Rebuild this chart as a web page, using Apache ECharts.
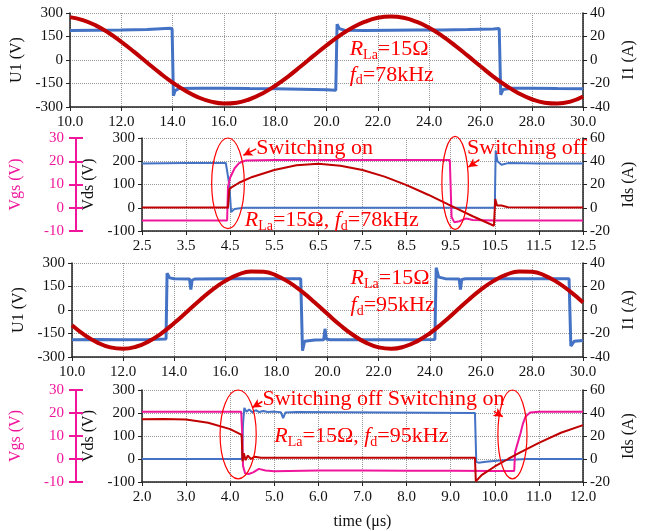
<!DOCTYPE html>
<html><head><meta charset="utf-8">
<script src="https://cdn.jsdelivr.net/npm/echarts@6.0.0/dist/echarts.min.js"></script>
<style>html,body{margin:0;padding:0;background:#fff}#c{width:645px;height:531px}</style>
</head><body><div id="c"></div>
<script>
// ---------- data ----------
// Panel 1: 78 kHz, time 10..30 us
const p1_U1 = [[10,188],[11,190],[12,191],[13,194],[13.9,202],[13.98,200],[14.03,-228],[14.1,-195],[14.25,-182],[15,-181],[16,-180],[17,-182],[18,-183],[19,-186],[20,-190],[20.36,-193],[20.41,228],[20.5,200],[20.7,190],[21.5,189],[22.5,190],[23.5,191],[24.5,192],[25.5,194],[26.5,198],[26.73,201],[26.79,-222],[26.88,-188],[27.2,-180],[28,-180],[29,-182],[30,-183]];
const p1_I1 = [[10,36.5],[10.5,34],[11,29.5],[11.5,23.2],[12,15.5],[12.5,6.9],[13,-2.1],[13.5,-11],[14,-19.2],[14.5,-26.2],[15,-31.8],[15.5,-35.4],[16,-37],[16.5,-36.3],[17,-33.4],[17.5,-28.5],[18,-21.9],[18.5,-14.1],[19,-5.3],[19.5,3.7],[20,12.5],[20.5,20.6],[21,27.5],[21.5,32.6],[22,35.9],[22.5,37],[23,35.9],[23.5,32.6],[24,27.5],[24.5,20.6],[25,12.5],[25.5,3.7],[26,-5.3],[26.5,-14.1],[27,-21.9],[27.5,-28.5],[28,-33.4],[28.5,-36.3],[29,-37],[29.5,-35.4],[30,-31]];
// Panel 2: switching detail 78 kHz, time 2.5..12.5 us
const p2_ticks = [2.5,3.5,4.5,5.5,6.5,7.5,8.5,9.5,10.5,11.5,12.5];
const p2_Vds = [[2.5,190],[3.5,192],[4.4,193],[4.44,190],[4.48,100],[4.52,-18],[4.6,-5],[4.8,0],[6,0],[8,0],[10,0],[10.5,0],[10.52,245],[10.56,200],[10.65,185],[10.8,192],[11.5,190],[12.5,190]];
const p2_Vgs = [[2.5,-5.5],[4.43,-5.5],[4.45,9],[4.5,13],[4.6,17],[4.7,19.2],[4.85,20.3],[5.5,20.5],[9.48,20.5],[9.52,-4],[9.58,-6.2],[9.7,-5.8],[9.85,-4.6],[10.0,-5.3],[10.5,-5.5],[12.5,-5.5]];
const p2_Ids = [[2.5,0.3],[3.5,0.3],[4.45,0.3],[4.48,16],[4.55,18],[4.7,21.5],[5.0,26.5],[5.5,32.5],[6.0,36.5],[6.5,37.8],[7.0,36.2],[7.5,32.5],[8.0,26.8],[8.5,19.5],[9.0,11],[9.5,1.8],[10.0,-7.3],[10.48,-15.5],[10.51,7.5],[10.55,2],[10.65,2],[10.8,0.5],[11.5,0.3],[12.5,0.3]];
// Panel 3: 95 kHz, time 10..30 us
const p3_U1 = [[10,-190],[11,-188],[12,-190],[13,-188],[13.68,-185],[13.72,235],[13.82,205],[14,200],[14.6,198],[14.65,130],[14.7,190],[14.8,198],[16,200],[17,200],[18,200],[18.95,200],[19.02,-260],[19.1,-200],[19.5,-192],[19.85,-190],[19.9,-120],[19.95,-185],[20.1,-190],[21,-190],[22,-190],[23,-190],[24.2,-188],[24.25,270],[24.35,210],[24.6,200],[25.15,198],[25.2,130],[25.25,195],[25.4,200],[26,200],[27,200],[28,200],[29.45,200],[29.52,-230],[29.65,-200],[30,-195]];
const p3_I1 = [[10,-12.9],[10.5,-21.3],[11,-27.8],[11.5,-31.8],[12,-33],[12.5,-31.3],[13,-26.7],[13.5,-19.8],[14,-11.1],[14.5,-1.5],[15,8.3],[15.5,17.4],[16,24.8],[16.5,30.1],[17,32.8],[17.5,32.5],[18,29.3],[18.5,23.5],[19,15.6],[19.5,6.4],[20,-3.5],[20.5,-13],[21,-21.3],[21.5,-27.8],[22,-31.8],[22.5,-33],[23,-31.2],[23.5,-26.7],[24,-19.8],[24.5,-11.1],[25,-1.5],[25.5,8.3],[26,17.4],[26.5,24.8],[27,30.1],[27.5,32.8],[28,32.5],[28.5,29.3],[29,23.5],[29.5,15.6],[30,6.4]];
// Panel 4: switching detail 95 kHz, time 2..12 us
const p4_Vds = [[2,0],[3,0],[4,0],[4.27,0],[4.29,150],[4.32,222],[4.37,205],[4.43,215],[4.5,203],[4.58,212],[4.66,204],[4.75,209],[4.85,204],[5.0,206],[5.15,203],[5.2,178],[5.25,202],[5.5,204],[6.5,203],[7.5,202],[8.5,201],[9.5,200],[9.55,200],[9.58,-12],[9.63,-16],[9.8,-12],[10.1,-7],[10.4,-3],[10.7,0],[12,0]];
const p4_Vgs = [[2,20.5],[4.25,20.5],[4.27,12],[4.29,-3],[4.34,-6.3],[4.42,-6.5],[4.52,-5.8],[4.65,-4.3],[4.8,-5],[5.0,-5.3],[6,-5],[7,-5],[8,-5.1],[9,-5.1],[10,-5.2],[10.44,-5.2],[10.46,3],[10.52,7],[10.58,11],[10.64,15.5],[10.7,18.5],[10.8,20.2],[11,20.5],[12,20.5]];
const p4_Ids = [[2,34.5],[2.5,34.8],[3,34.3],[3.5,31.5],[4,26],[4.26,21],[4.28,-2],[4.31,5],[4.35,-1],[4.4,3],[4.47,0],[4.55,2],[4.7,1],[5.5,1],[6.5,1],[7.5,1],[8.5,1],[9.4,1],[9.55,1],[9.57,-19.5],[9.7,-14],[10,-6.5],[10.3,0],[10.5,4.2],[11,14],[11.5,22.8],[12,29.5]];

// ---------- styling / layout ----------
const F = 'Liberation Serif';
const BLUE = '#4472C4', RED = '#C00000', PINK = '#F0169B', ANN = '#FF0000';
const grids = [
  {left:70, right:53, top:13, height:94},
  {left:138, right:55, top:138, height:93},
  {left:72, right:51, top:263, height:94},
  {left:142, right:51, top:390, height:96}
];
function xAx(gi, min, max, interval, custom, name) {
  const ax = {type:'value', gridIndex:gi, min:min, max:max,
    axisLine:{show:true, onZero:false, lineStyle:{color:'#222', width:1.5}},
    axisTick:{show:true, length:4, lineStyle:{color:'#222'}},
    axisLabel:{color:'#111', fontFamily:F, fontSize:15, margin:8, formatter:v=>Number(v).toFixed(1)},
    splitLine:{show:true, lineStyle:{type:'dotted', color:'#999', width:1}}};
  if (custom) { ax.axisTick.customValues = custom; ax.axisLabel.customValues = custom; }
  else ax.interval = interval;
  if (name) { ax.name = name; ax.nameLocation = 'middle'; ax.nameGap = 32; ax.nameTextStyle = {fontFamily:F, fontSize:16, color:'#111'}; }
  return ax;
}
function yAx(gi, pos, min, max, interval, name, nameGap, split) {
  return {type:'value', gridIndex:gi, position:pos, min:min, max:max, interval:interval,
    name:name, nameLocation:'middle', nameGap:nameGap, nameRotate:90,
    nameTextStyle:{fontFamily:F, fontSize:16, color:'#111'},
    axisLine:{show:true, onZero:false, lineStyle:{color:'#222', width:1.5}},
    axisTick:{show:true, length:4, lineStyle:{color:'#222'}},
    axisLabel:{color:'#111', fontFamily:F, fontSize:15, margin:7},
    splitLine:{show:split, lineStyle:{type:'dotted', color:'#999', width:1}}};
}
function pinkAx(gi, offset, labels) {
  return {type:'value', gridIndex:gi, position:'left', offset:offset, min:-10, max:30, interval:10,
    name: labels ? 'Vgs (V)' : '', nameLocation:'middle', nameGap:52, nameRotate:90,
    nameTextStyle:{fontFamily:F, fontSize:16, color:PINK},
    axisLine:{show:true, onZero:false, lineStyle:{color:PINK, width:2}},
    axisTick:{show:true, inside:!labels, length:7, lineStyle:{color:PINK, width:2}},
    axisLabel:{show:labels, color:PINK, fontFamily:F, fontSize:15, margin:12},
    splitLine:{show:false}};
}
const xAxes = [
  xAx(0, 10, 30, 2),
  xAx(1, 2.5, 12.5, 1, p2_ticks),
  xAx(2, 10, 30, 2),
  xAx(3, 2, 12, 1, null, 'time (\u03bcs)')
];
const yAxes = [
  yAx(0,'left',-300,300,150,'U1 (V)',45,true),
  yAx(0,'right',-40,40,20,'I1 (A)',36,false),
  yAx(1,'left',-100,300,100,'Vds (V)',44,true),
  yAx(1,'right',-20,60,20,'Ids (A)',38,false),
  pinkAx(1, 66, true),
  pinkAx(1, 66, false),
  yAx(2,'left',-300,300,150,'U1 (V)',45,true),
  yAx(2,'right',-40,40,20,'I1 (A)',36,false),
  yAx(3,'left',-100,300,100,'Vds (V)',44,true),
  yAx(3,'right',-20,60,20,'Ids (A)',38,false),
  pinkAx(3, 66, true),
  pinkAx(3, 66, false)
];
function line(xi, yi, data, color, width, smooth, extra) {
  return Object.assign({type:'line', xAxisIndex:xi, yAxisIndex:yi, data:data, showSymbol:false, symbol:'none',
    smooth:smooth, lineStyle:{color:color, width:width}, itemStyle:{color:color}, animation:false}, extra || {});
}
function arrows(list) {
  return {markLine:{silent:true, symbol:['none','arrow'], symbolSize:[7,9], animation:false,
    lineStyle:{color:ANN, width:1.5, type:'solid'}, label:{show:false},
    data:list.map(a=>[{coord:a[0]},{coord:a[1]}])}};
}
const series = [
  line(0,0,p1_U1,BLUE,3,false),
  line(0,1,p1_I1,RED,4,true),
  line(1,2,p2_Vds,BLUE,2,false, arrows([[[5.09,253],[4.8,226]],[[10.15,207],[9.9,175]]])),
  line(1,4,p2_Vgs,PINK,2,false),
  line(1,3,p2_Ids,RED,2,false),
  line(2,6,p3_U1,BLUE,3,false),
  line(2,7,p3_I1,RED,4,true),
  line(3,8,p4_Vds,BLUE,2,false, arrows([[[4.73,250],[4.5,224]],[[9.98,207],[10.18,184]]])),
  line(3,10,p4_Vgs,PINK,2,false),
  line(3,9,p4_Ids,RED,2,false)
];
const chart = echarts.init(document.getElementById('c'), null, {renderer:'canvas'});
chart.setOption({animation:false, backgroundColor:'#fff', grid:grids, xAxis:xAxes, yAxis:yAxes, series:series});

// ---------- annotations (anchored in data coordinates) ----------
function px(xi, yi, p) { return chart.convertToPixel({xAxisIndex:xi, yAxisIndex:yi}, p); }
const rich = {
  it:{fontFamily:F, fontStyle:'italic', fontSize:22, fill:ANN, color:ANN, lineHeight:26},
  n:{fontFamily:F, fontSize:22, fill:ANN, color:ANN, lineHeight:26},
  s:{fontFamily:F, fontSize:14, fill:ANN, color:ANN, lineHeight:14, verticalAlign:'bottom'}
};
const texts = [
  [0,0,[20.9,70],'{it|R}{s|La}{n|=15\u03a9}'],
  [0,0,[20.9,-94],'{it|f}{s|d}{n|=78kHz}'],
  [1,2,[5.09,258],'{n|Switching on}'],
  [1,2,[9.87,258],'{n|Switching off}'],
  [1,2,[4.83,-53],'{it|R}{s|La}{n|=15\u03a9, }{it|f}{s|d}{n|=78kHz}'],
  [2,6,[20.9,204],'{it|R}{s|La}{n|=15\u03a9}'],
  [2,6,[20.9,32],'{it|f}{s|d}{n|=95kHz}'],
  [3,8,[4.73,262],'{n|Switching off Switching on}'],
  [3,8,[5.0,100],'{it|R}{s|La}{n|=15\u03a9, }{it|f}{s|d}{n|=95kHz}']
];
const ellipses = [
  [1,2,4.45,105,0.37,195],
  [1,2,9.6,107,0.30,200],
  [3,8,4.18,107,0.41,193],
  [3,8,10.4,107,0.33,193]
];
const graphic = [];
texts.forEach(t=>{
  const p = px(t[0], t[1], t[2]);
  graphic.push({type:'text', x:p[0], y:p[1], z:100, style:{text:t[3], rich:rich, fill:ANN, align:'left', verticalAlign:'middle', font:'22px '+F}});
});
ellipses.forEach(e=>{
  const c = px(e[0], e[1], [e[2], e[3]]);
  const q = px(e[0], e[1], [e[2]+e[4], e[3]+e[5]]);
  graphic.push({type:'ellipse', z:100, shape:{cx:c[0], cy:c[1], rx:Math.abs(q[0]-c[0]), ry:Math.abs(c[1]-q[1])},
    style:{fill:'none', stroke:ANN, lineWidth:1.2}});
});
chart.setOption({graphic:graphic});
</script></body></html>
